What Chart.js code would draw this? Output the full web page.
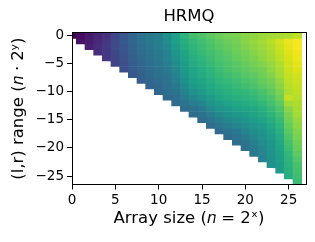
<!DOCTYPE html>
<html>
<head>
<meta charset="utf-8">
<script src="https://cdn.jsdelivr.net/npm/chart.js@4/dist/chart.umd.min.js"></script>
<style>
  html, body { margin: 0; padding: 0; background: #fff; }
</style>
</head>
<body>
<canvas id="heat" width="315" height="242"></canvas>
<script>
// array size exponents x (n = 2^x)
const arraySizes = [0, 1, 2, 3, 4, 5, 6, 7, 8, 9, 10, 11, 12, 13, 14, 15, 16, 17, 18, 19, 20, 21, 22, 23, 24, 25, 26];
const xTicks = [0, 5, 10, 15, 20, 25];
const yTicks = [0, -5, -10, -15, -20, -25];

// colour value (0..100 on viridis) per column, rows y = 0, -1, ... -x
const cellValues = [
  [0],
  [3, 5],
  [7, 8, 9],
  [10, 12, 13, 13],
  [14, 16, 17, 17, 17],
  [21, 22, 22, 21, 20, 20],
  [27, 28, 27, 26, 25, 24, 24],
  [32, 33, 32, 31, 30, 29, 28, 28],
  [37, 37, 36, 35, 34, 33, 32, 31, 30],
  [40, 40, 39, 38, 37, 36, 35, 34, 33, 32],
  [43, 43, 42, 41, 40, 39, 38, 37, 35, 34, 33],
  [50, 48, 47, 45, 44, 42, 41, 39, 38, 37, 36, 34],
  [57, 56, 54, 52, 50, 48, 46, 44, 42, 40, 38, 36, 35],
  [65, 62, 61, 59, 57, 55, 54, 52, 50, 47, 44, 41, 38, 35],
  [70, 66, 65, 64, 62, 61, 59, 58, 56, 54, 50, 46, 42, 38, 35],
  [72, 69, 68, 67, 65, 64, 62, 61, 59, 57, 54, 50, 45, 40, 37, 35],
  [75, 72, 71, 70, 68, 67, 65, 64, 62, 60, 58, 55, 51, 47, 42, 38, 35],
  [77, 75, 74, 72, 71, 70, 68, 67, 65, 63, 61, 59, 55, 51, 47, 43, 39, 35],
  [79, 77, 76, 75, 73, 72, 71, 69, 67, 65, 63, 61, 58, 54, 50, 46, 42, 38, 35],
  [80, 79, 78, 77, 76, 74, 73, 71, 69, 67, 65, 63, 60, 57, 53, 49, 45, 41, 38, 36],
  [82, 82, 81, 79, 78, 76, 75, 73, 71, 69, 66, 64, 61, 58, 55, 52, 48, 45, 41, 38, 37],
  [83, 84, 83, 82, 80, 79, 77, 75, 73, 71, 68, 66, 63, 60, 58, 55, 52, 49, 46, 43, 41, 40],
  [85, 86, 85, 84, 83, 81, 79, 78, 76, 74, 71, 69, 66, 63, 61, 58, 55, 52, 50, 48, 46, 45, 44],
  [86, 89, 88, 87, 86, 84, 83, 81, 79, 77, 75, 72, 70, 67, 65, 62, 60, 57, 55, 53, 52, 51, 50, 50],
  [87, 93, 92, 91, 90, 88, 87, 86, 84, 82, 80, 78, 75, 72, 70, 67, 65, 63, 61, 60, 58, 57, 56, 55, 55],
  [88, 97, 96, 95, 94, 93, 92, 91, 90, 89, 88, 91, 86, 82, 80, 78, 76, 74, 72, 70, 68, 66, 65, 64, 63, 62],
  [90, 99, 99, 98, 97, 96, 95, 93, 92, 91, 90, 89, 88, 87, 86, 84, 83, 81, 80, 78, 77, 75, 73, 71, 70, 69, 68]
];

// viridis, 21 stops
const viridisStops = ['#440154','#471365','#482475','#463480','#414487','#3b528b','#355f8d','#2f6c8e',
  '#2a788e','#25848e','#21918c','#1e9c89','#22a884','#2fb47c','#44bf70','#5ec962','#7ad151',
  '#9bd93c','#bddf26','#dfe318','#fde725'];

function hexRgb(h) {
  return [parseInt(h.slice(1, 3), 16), parseInt(h.slice(3, 5), 16), parseInt(h.slice(5, 7), 16)];
}
function viridis(v) {
  const t = Math.max(0, Math.min(1, v / 100)) * (viridisStops.length - 1);
  const i = Math.min(Math.floor(t), viridisStops.length - 2), f = t - i;
  const a = hexRgb(viridisStops[i]), b = hexRgb(viridisStops[i + 1]);
  const c = a.map((k, j) => Math.round(k + (b[j] - k) * f));
  return `rgb(${c[0]},${c[1]},${c[2]})`;
}

const minus = v => v < 0 ? '\u2212' + (-v) : String(v);

// one bar dataset per row, each cell is a floating bar one unit tall
const datasets = [];
for (let r = 0; r < arraySizes.length; r++) {
  const pts = [], cols = [];
  arraySizes.forEach((x, i) => {
    if (r <= x) {
      pts.push({x: x, y: [-r - 0.5, -r + 0.5]});
      cols.push(viridis(cellValues[i][r]));
    }
  });
  datasets.push({
    data: pts,
    backgroundColor: cols,
    borderWidth: 0,
    barPercentage: 1,
    categoryPercentage: 1,
    grouped: false
  });
}

const frame = {
  id: 'frame',
  afterDatasetsDraw(chart) {
    const {ctx, chartArea: a} = chart;
    ctx.save();
    ctx.strokeStyle = '#000';
    ctx.lineWidth = 1;
    ctx.strokeRect(Math.floor(a.left) + 0.5, Math.floor(a.top) + 0.5,
      Math.round(a.right) - Math.floor(a.left), Math.floor(a.bottom) - Math.floor(a.top));
    ctx.restore();
  }
};

Chart.defaults.font.family = "'DejaVu Sans', sans-serif";
Chart.defaults.color = '#000';

new Chart(document.getElementById('heat'), {
  type: 'bar',
  data: { datasets: datasets },
  options: {
    responsive: false,
    animation: false,
    layout: { padding: { right: 9 } },
    plugins: {
      legend: { display: false },
      tooltip: { enabled: false },
      title: {
        display: true,
        text: 'HRMQ',
        fullSize: false,
        color: '#000',
        font: { size: 16.5, weight: 'normal' },
        padding: { top: 7, bottom: 6 }
      }
    },
    scales: {
      x: {
        type: 'linear',
        min: 0,
        max: 27,
        offset: false,
        afterBuildTicks: s => { s.ticks = xTicks.map(v => ({value: v})); },
        afterFit: s => { s.height = 57.5; },
        border: { display: false },
        grid: { drawOnChartArea: false, tickLength: 5, tickColor: '#000', offset: false },
        ticks: { font: { size: 13.5 }, padding: 3, maxRotation: 0, autoSkip: false, callback: minus },
        title: { display: true, text: 'Array size (𝑛 = 2ˣ)', font: { size: 16.5 }, padding: { top: 0, bottom: 13 } }
      },
      y: {
        type: 'linear',
        min: -26.5,
        max: 0.5,
        afterBuildTicks: s => { s.ticks = yTicks.map(v => ({value: v})); },
        afterFit: s => { s.width = 72; },
        border: { display: false },
        grid: { drawOnChartArea: false, tickLength: 5, tickColor: '#000' },
        ticks: { font: { size: 13.5 }, padding: 3, autoSkip: false, callback: minus },
        title: { display: true, text: '(l,r) range (𝑛 · 2ʸ)', font: { size: 16.5 }, padding: { top: 9, bottom: 0 } }
      }
    }
  },
  plugins: [frame]
});
</script>
</body>
</html>
